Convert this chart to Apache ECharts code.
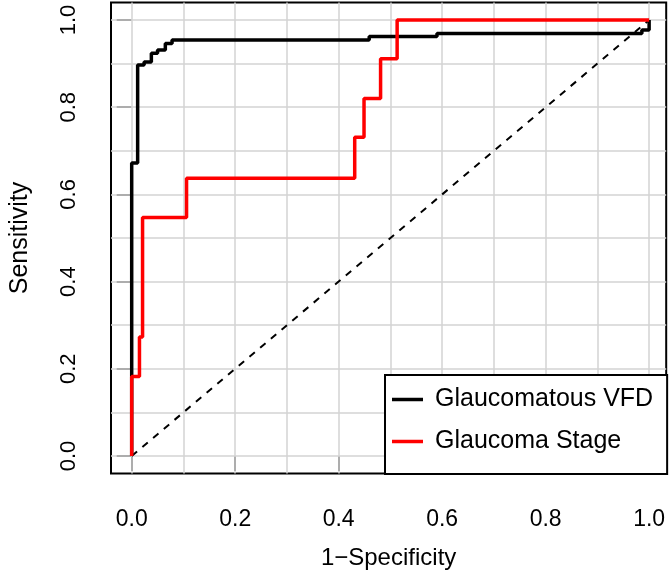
<!DOCTYPE html>
<html>
<head>
<meta charset="utf-8">
<script src="https://cdn.jsdelivr.net/npm/echarts@6/dist/echarts.min.js"></script>
<style>html,body{margin:0;padding:0;background:#fff}#c{width:670px;height:577px}</style>
</head>
<body>
<div id="c"></div>
<script>
// ROC vertices (step 'end': horizontal first, then vertical)
var vfdFpr   = [0, 0, 0.0115, 0.024, 0.038, 0.050, 0.065, 0.078, 0.459, 0.590, 0.986, 1.0];
var vfdTpr   = [0, 0.672, 0.897, 0.904, 0.924, 0.931, 0.946, 0.954, 0.962, 0.969, 0.977, 1.0];
var stageFpr = [0, 0, 0.015, 0.021, 0.106, 0.431, 0.449, 0.481, 0.513, 1.0];
var stageTpr = [0, 0.182, 0.273, 0.547, 0.637, 0.731, 0.820, 0.911, 1.0, 1.0];
var diagX = [0, 1];
var diagY = [0, 1];
var tickVals = [0, 0.2, 0.4, 0.6, 0.8, 1.0];
var gridVals = [0, 0.1, 0.2, 0.3, 0.4, 0.5, 0.6, 0.7, 0.8, 0.9, 1.0];
var seriesNames = ['Glaucomatous VFD', 'Glaucoma Stage'];

function zip(a, b) { return a.map(function (v, i) { return [v, b[i]]; }); }
var FONT = '"Liberation Sans", Arial, sans-serif';

var chart = echarts.init(document.getElementById('c'), null, {renderer: 'canvas'});
chart.setOption({
  animation: false,
  backgroundColor: '#fff',
  grid: {left: 108.2, right: 3.8, top: 2.6, bottom: 103.6, show: true,
         borderColor: '#000', borderWidth: 2, backgroundColor: 'transparent'},
  xAxis: {
    type: 'value', min: -0.04, max: 1.033,
    axisLine: {show: false},
    axisTick: {show: true, customValues: tickVals, length: 15, lineStyle: {color: '#000', width: 1.5}},
    axisLabel: {show: true, customValues: tickVals, margin: 35, fontSize: 23, fontFamily: FONT, color: '#000',
                formatter: function (v) { return v.toFixed(1); }},
    splitLine: {show: false},
    name: '1\u2212Specificity', nameLocation: 'middle', nameGap: 73,
    nameTextStyle: {fontSize: 24, fontFamily: FONT, color: '#000'}
  },
  yAxis: {
    type: 'value', min: -0.04, max: 1.04,
    axisLine: {show: false},
    axisTick: {show: true, customValues: tickVals, length: 15, lineStyle: {color: '#000', width: 1.5}},
    axisLabel: {show: true, customValues: tickVals, rotate: 90, margin: 31, fontSize: 22, fontFamily: FONT, color: '#000',
                formatter: function (v) { return v.toFixed(1); }},
    splitLine: {show: false},
    name: 'Sensitivity', nameLocation: 'middle', nameGap: 78,
    nameTextStyle: {fontSize: 25, fontFamily: FONT, color: '#000'}
  },
  legend: {
    data: seriesNames, orient: 'vertical', left: 385, top: 375,
    icon: 'rect', itemWidth: 31, itemHeight: 3.5, itemGap: 17,
    padding: [12, 14, 20, 7], borderColor: '#000', borderWidth: 2, backgroundColor: '#fff',
    textStyle: {fontSize: 25, fontFamily: FONT, color: '#000', padding: [0, 0, 0, 7]},
    selectedMode: false
  },
  series: [
    {
      type: 'line', name: 'grid', data: [], z: 1, silent: true,
      markLine: {
        z: 1, silent: true, symbol: 'none', label: {show: false}, animation: false,
        lineStyle: {color: '#d3d3d3', type: 'solid', width: 1.5},
        emphasis: {disabled: true},
        data: gridVals.map(function (v) { return {xAxis: v}; })
              .concat(gridVals.map(function (v) { return {yAxis: v}; }))
      }
    },
    {
      type: 'line', name: 'diag', data: zip(diagX, diagY), z: 2, silent: true,
      symbol: 'none', lineStyle: {color: '#000', width: 2, type: [7, 7]}
    },
    {
      type: 'line', name: seriesNames[0], data: zip(vfdFpr, vfdTpr), step: 'end', z: 3,
      symbol: 'none', color: '#000', lineStyle: {color: '#000', width: 3.5}
    },
    {
      type: 'line', name: seriesNames[1], data: zip(stageFpr, stageTpr), step: 'end', z: 4,
      symbol: 'none', color: '#ff0000', lineStyle: {color: '#ff0000', width: 3.5}
    }
  ]
});
</script>
</body>
</html>
